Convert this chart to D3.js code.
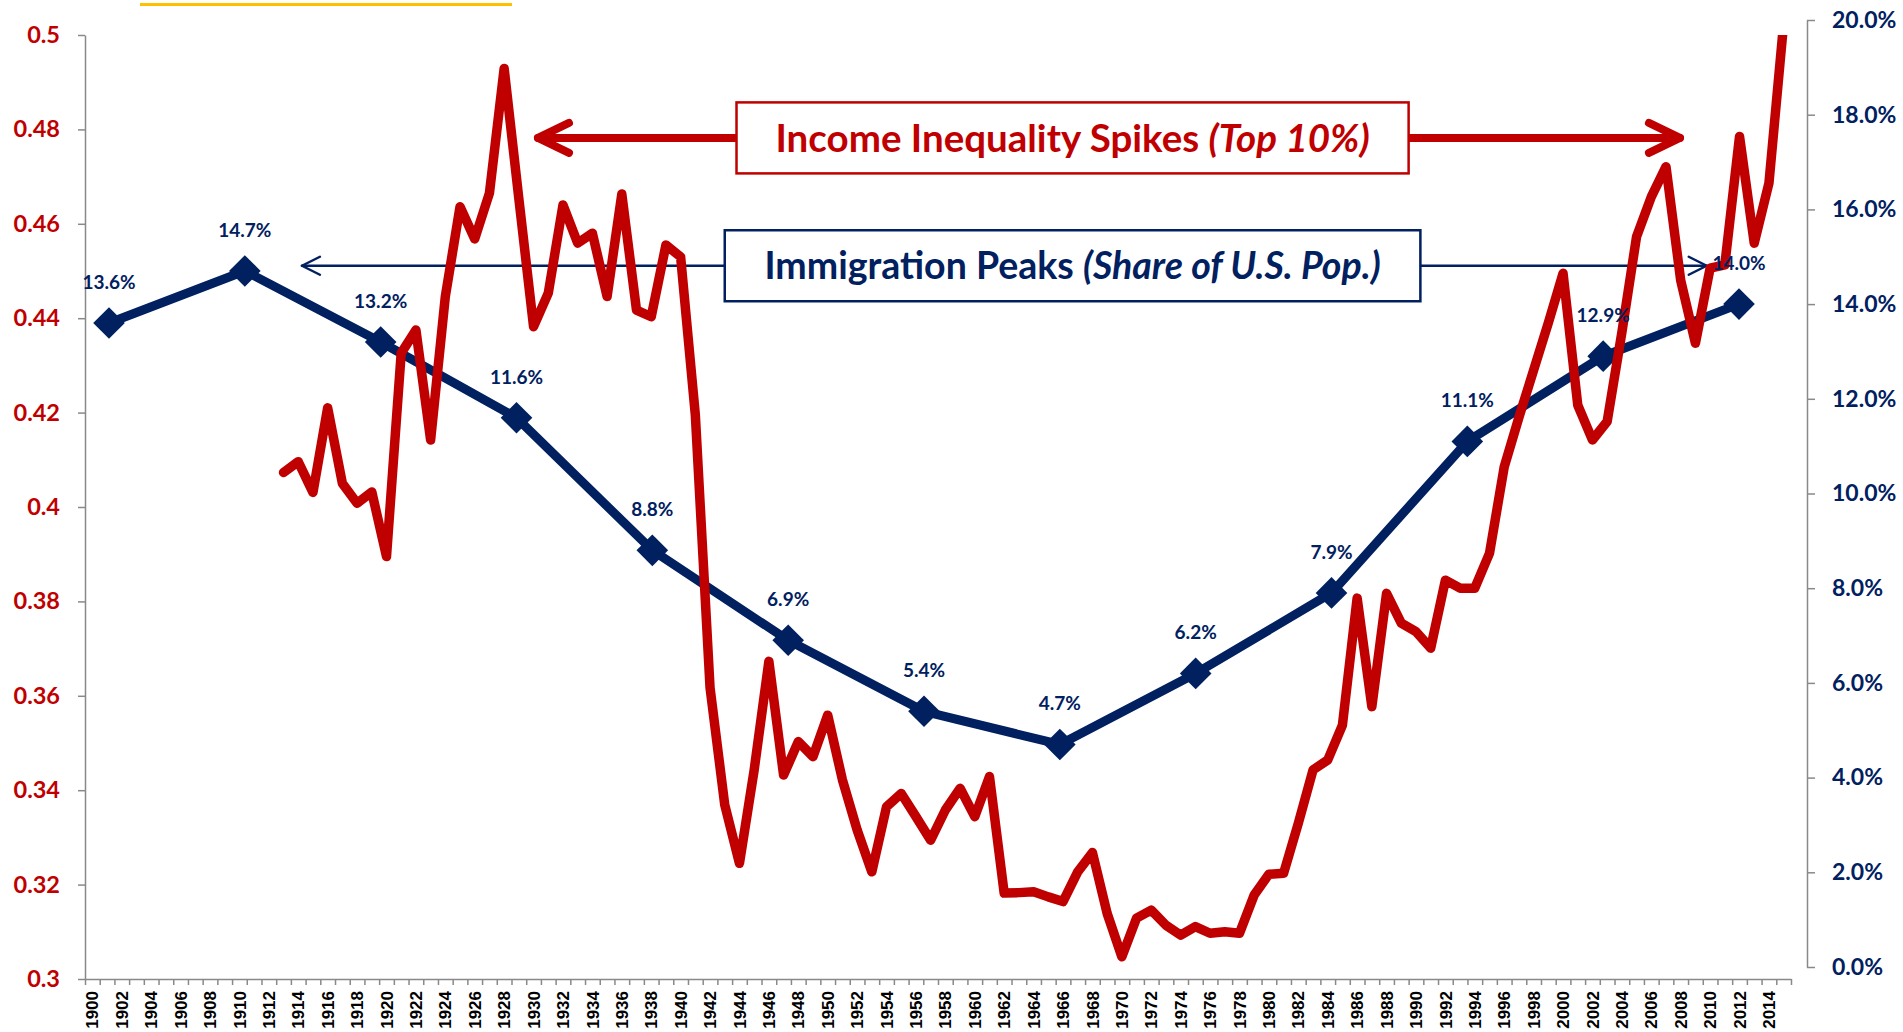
<!DOCTYPE html>
<html>
<head>
<meta charset="utf-8">
<script src="https://cdn.jsdelivr.net/npm/d3@7"></script>
<style>
    html, body { margin: 0; padding: 0; background: #fff; }
    svg { display: block; }
    .num { font-family: Lato, 'Open Sans', sans-serif; font-weight: 700; }
    .year { font-family: 'Liberation Sans', Arial, sans-serif; font-weight: 700; }
</style>
</head>
<body>
<svg id="chart" width="1903" height="1032"></svg>
<script>
// Category axis: one band per year
var YEARS = d3.range(1900, 2016);
var YEAR_LABELS = YEARS.filter(function(y) { return y % 2 === 0; });

// Top 10% income share, one value per year from 1913 to 2015
var INCOME_START = 1913;
var INCOME_SHARE = [
    0.4073, 0.4096, 0.4031, 0.4210, 0.4050, 0.4008, 0.4032, 0.3895, 0.4326, 0.4375, // 1913-1922
    0.4142, 0.4446, 0.4636, 0.4568, 0.4665, 0.4929, 0.4653, 0.4382, 0.4453, 0.4640, // 1923-1932
    0.4559, 0.4580, 0.4446, 0.4663, 0.4417, 0.4403, 0.4555, 0.4530, 0.4195, 0.3617, // 1933-1942
    0.3369, 0.3245, 0.3443, 0.3673, 0.3432, 0.3503, 0.3471, 0.3559, 0.3422, 0.3316, // 1943-1952
    0.3227, 0.3365, 0.3393, 0.3344, 0.3294, 0.3358, 0.3404, 0.3344, 0.3429, 0.3182, // 1953-1962
    0.3183, 0.3185, 0.3174, 0.3164, 0.3227, 0.3268, 0.3139, 0.3047, 0.3129, 0.3146, // 1963-1972
    0.3114, 0.3093, 0.3111, 0.3097, 0.3100, 0.3097, 0.3178, 0.3222, 0.3224, 0.3330, // 1973-1982
    0.3443, 0.3464, 0.3538, 0.3807, 0.3577, 0.3817, 0.3754, 0.3736, 0.3701, 0.3845, // 1983-1992
    0.3828, 0.3828, 0.3902, 0.4085, 0.4190, 0.4290, 0.4390, 0.4495, 0.4216, 0.4142, // 1993-2002
    0.4181, 0.4370, 0.4573, 0.4657, 0.4721, 0.4480, 0.4347, 0.4506, 0.4513, 0.4785, // 2003-2012
    0.4559, 0.4686, 0.5025                                                          // 2013-2015
];

// Foreign-born share of U.S. population (%), secondary axis
var CENSUS_YEARS = ['1900', '1910', '1920', '1930', '1940', '1950', '1960',
                    '1970', '1980', '1990', '2000', '2010', '2014'];
var FOREIGN_BORN = [13.6, 14.7, 13.2, 11.6, 8.8, 6.9, 5.4, 4.7, 6.2, 7.9, 11.1, 12.9, 14.0];

var LEFT_TICKS = [0.3, 0.32, 0.34, 0.36, 0.38, 0.4, 0.42, 0.44, 0.46, 0.48, 0.5];
var RIGHT_TICKS = [0, 2, 4, 6, 8, 10, 12, 14, 16, 18, 20];

var RED = '#C00000',
    NAVY = '#002060',
    GREY = '#898989',
    GOLD = '#FFC000';

// Primary and secondary plot areas do not line up exactly (as in the source)
var PLOT = { left: 85, right: 1791, top: 35, bottom: 979 },
    PLOT2 = { left: 109, right: 1739, top: 20, bottom: 967 };

var svg = d3.select('#chart');

var x = d3.scaleBand().domain(YEARS).range([PLOT.left, PLOT.right]);
var xYear = d3.scaleLinear().domain([1900, 2016]).range([PLOT.left, PLOT.right]);
var yLeft = d3.scaleLinear().domain([0.3, 0.5]).range([PLOT.bottom, PLOT.top]);
var x2 = d3.scalePoint().domain(CENSUS_YEARS).range([PLOT2.left, PLOT2.right]);
var yRight = d3.scaleLinear().domain([0, 20]).range([PLOT2.bottom, PLOT2.top]);

function styleAxis(g) {
    g.selectAll('.domain, .tick line')
        .attr('stroke', GREY)
        .attr('stroke-width', 1.5);
}

// Slide decoration above the chart
svg.append('line')
    .attr('x1', 140).attr('x2', 512)
    .attr('y1', 4.5).attr('y2', 4.5)
    .attr('stroke', GOLD)
    .attr('stroke-width', 3);

// Axes
svg.append('g')
    .attr('transform', 'translate(' + PLOT.left + ',0)')
    .call(d3.axisLeft(yLeft)
        .tickValues(LEFT_TICKS)
        .tickSize(7)
        .tickSizeOuter(0)
        .tickPadding(18)
        .tickFormat(function(d) { return String(+d.toFixed(2)); }))
    .call(styleAxis)
    .selectAll('text')
    .attr('class', 'num')
    .attr('font-size', 23.5)
    .attr('fill', RED);

svg.append('g')
    .attr('transform', 'translate(1807,0)')
    .call(d3.axisRight(yRight)
        .tickValues(RIGHT_TICKS)
        .tickSize(8)
        .tickSizeOuter(0)
        .tickPadding(17)
        .tickFormat(function(d) { return d.toFixed(1) + '%'; }))
    .call(styleAxis)
    .selectAll('text')
    .attr('class', 'num')
    .attr('font-size', 23)
    .attr('fill', NAVY);

// Year ticks sit on band boundaries, labels in band centres
svg.append('g')
    .attr('transform', 'translate(0,' + PLOT.bottom + ')')
    .call(d3.axisBottom(xYear)
        .tickValues(d3.range(1900, 2017))
        .tickSize(6)
        .tickSizeOuter(0)
        .tickFormat(''))
    .call(styleAxis);

svg.append('g')
    .attr('transform', 'translate(0,' + PLOT.bottom + ')')
    .call(d3.axisBottom(x).tickValues(YEAR_LABELS).tickSize(0))
    .call(function(g) { g.select('.domain').remove(); })
    .selectAll('text')
    .attr('class', 'year')
    .attr('font-size', 17)
    .attr('fill', '#000')
    .attr('transform', 'rotate(-90)')
    .attr('text-anchor', 'end')
    .attr('x', -12)
    .attr('y', 0)
    .attr('dy', '0.36em');

// Annotation arrows, drawn behind the series
function arrow(from, to, y, color, width, head) {
    var g = svg.append('g')
        .attr('fill', 'none')
        .attr('stroke', color)
        .attr('stroke-width', width)
        .attr('stroke-linecap', 'round')
        .attr('stroke-linejoin', 'round');
    g.append('line')
        .attr('x1', from[0]).attr('x2', from[1])
        .attr('y1', y).attr('y2', y);
    g.append('line')
        .attr('x1', to[0]).attr('x2', to[1])
        .attr('y1', y).attr('y2', y);
    [[from[0], 1], [to[1], -1]].forEach(function(t) {
        var tip = t[0], dir = t[1];
        g.append('path')
            .attr('d', 'M' + (tip + dir * head.dx) + ',' + (y - head.dy) +
                       'L' + tip + ',' + y +
                       'L' + (tip + dir * head.dx) + ',' + (y + head.dy));
    });
}

var incomeY = yLeft(0.4782),
    immigY = yRight(14.81);

arrow([xYear(1930.8), xYear(1944.3)], [xYear(1990), xYear(2008.45)],
      incomeY, RED, 8, { dx: 31, dy: 15 });
arrow([xYear(1914.75), xYear(1943.5)], [xYear(1990.8), xYear(2010.27)],
      immigY, NAVY, 2.5, { dx: 18, dy: 9 });

// Immigration share (secondary axis)
var immig = CENSUS_YEARS.map(function(c, i) { return { cat: c, value: FOREIGN_BORN[i] }; });

svg.append('path')
    .datum(immig)
    .attr('fill', 'none')
    .attr('stroke', NAVY)
    .attr('stroke-width', 9)
    .attr('stroke-linejoin', 'round')
    .attr('d', d3.line()
        .x(function(d) { return x2(d.cat); })
        .y(function(d) { return yRight(d.value); }));

svg.append('g')
    .selectAll('path')
    .data(immig)
    .enter()
    .append('path')
    .attr('d', d3.symbol().type(d3.symbolSquare).size(500))
    .attr('fill', NAVY)
    .attr('transform', function(d) {
        return 'translate(' + x2(d.cat) + ',' + yRight(d.value) + ') rotate(45)';
    });

// Income share (primary axis), clipped to the plot area
var income = INCOME_SHARE.map(function(v, i) { return { year: INCOME_START + i, value: v }; });

svg.append('clipPath')
    .attr('id', 'plot-clip')
    .append('rect')
    .attr('x', PLOT.left - 20)
    .attr('y', PLOT.top)
    .attr('width', PLOT.right - PLOT.left + 40)
    .attr('height', PLOT.bottom - PLOT.top);

svg.append('path')
    .datum(income)
    .attr('clip-path', 'url(#plot-clip)')
    .attr('fill', 'none')
    .attr('stroke', RED)
    .attr('stroke-width', 9.5)
    .attr('stroke-linejoin', 'round')
    .attr('stroke-linecap', 'round')
    .attr('d', d3.line()
        .x(function(d) { return x(d.year) + x.bandwidth() / 2; })
        .y(function(d) { return yLeft(d.value); }));

// Data labels above the diamonds
svg.append('g')
    .selectAll('text')
    .data(immig)
    .enter()
    .append('text')
    .attr('class', 'num')
    .attr('font-size', 19)
    .attr('fill', NAVY)
    .attr('text-anchor', 'middle')
    .attr('x', function(d) { return x2(d.cat); })
    .attr('y', function(d) { return yRight(d.value) - 34; })
    .text(function(d) { return d.value.toFixed(1) + '%'; });

// Callout boxes
function callout(x0, x1, yMid, h, color, size, main, note) {
    svg.append('rect')
        .attr('x', x0)
        .attr('y', yMid - h / 2)
        .attr('width', x1 - x0)
        .attr('height', h)
        .attr('fill', '#fff')
        .attr('stroke', color)
        .attr('stroke-width', 2.5);

    var t = svg.append('text')
        .attr('class', 'num')
        .attr('font-size', size)
        .attr('fill', color)
        .attr('text-anchor', 'middle')
        .attr('x', (x0 + x1) / 2)
        .attr('y', yMid)
        .attr('dy', '0.36em');
    t.append('tspan').text(main + ' ');
    t.append('tspan').attr('font-style', 'italic').text(note);
}

callout(xYear(1944.3), xYear(1990), incomeY, 71, RED, 38.5,
        'Income Inequality Spikes', '(Top 10%)');
callout(xYear(1943.5), xYear(1990.8), immigY, 71, NAVY, 37.5,
        'Immigration Peaks', '(Share of U.S. Pop.)');
</script>
</body>
</html>
